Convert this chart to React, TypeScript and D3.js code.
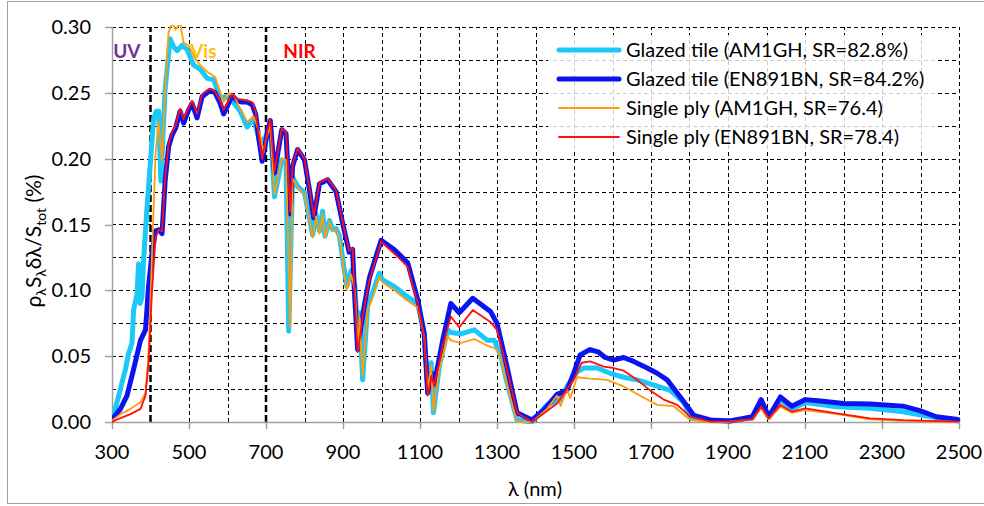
import React from "react";
import * as d3 from "d3";

// ---- data (wavelength nm, fraction) ----
const glazedAM1GH: [number, number][] = [
  [300, .002], [313, .015], [326, .03], [335, .04], [343, .052], [352, .06], [356, .085], [365, .097], [369, .12], [373, .09], [378, .095], [382, .123], [391, .163], [400, .198], [408, .23], [415, .236], [421, .236], [427, .183], [438, .253], [451, .291], [460, .285], [469, .282], [482, .286], [495, .283], [512, .271], [529, .268], [547, .261], [564, .26], [581, .246], [594, .247], [607, .246], [620, .241], [633, .236], [651, .224], [668, .231], [685, .211], [700, .217], [711, .227], [722, .171], [741, .199], [752, .198], [759, .069], [769, .186], [782, .179], [800, .174], [821, .142], [830, .158], [839, .145], [847, .16], [853, .141], [865, .153], [873, .146], [882, .147], [891, .141], [902, .118], [910, .103], [921, .115], [931, .103], [940, .055], [943, .083], [951, .032], [964, .088], [977, .098], [994, .113], [1003, .108], [1033, .103], [1068, .095], [1094, .09], [1111, .067], [1120, .027], [1129, .045], [1135, .007], [1150, .042], [1172, .07], [1180, .068], [1206, .067], [1241, .07], [1275, .062], [1293, .062], [1300, .057], [1310, .05], [1326, .03], [1352, .0015], [1391, 0], [1430, .013], [1465, .017], [1482, .027], [1508, .038], [1525, .041], [1560, .041], [1594, .037], [1629, .034], [1664, .032], [1698, .029], [1750, .024], [1785, .015], [1802, .004], [1854, .001], [1900, .0008], [1963, .003], [1986, .013], [2006, .0035], [2036, .017], [2066, .010], [2101, .0147], [2183, .0116], [2269, .0104], [2355, .0078], [2415, .0046], [2497, .0008],
];
const glazedEN891BN: [number, number][] = [
  [300, .002], [322, .01], [339, .02], [356, .04], [374, .062], [387, .07], [395, .103], [404, .128], [413, .145], [421, .146], [430, .143], [438, .183], [447, .209], [456, .218], [465, .223], [477, .236], [486, .227], [499, .237], [508, .242], [521, .231], [534, .247], [547, .25], [555, .252], [568, .25], [581, .242], [590, .234], [603, .242], [612, .248], [625, .244], [638, .243], [651, .243], [664, .241], [673, .234], [681, .216], [690, .198], [698, .211], [703, .219], [711, .229], [722, .189], [741, .222], [752, .219], [763, .158], [769, .194], [782, .207], [800, .199], [813, .176], [824, .155], [839, .181], [860, .184], [882, .175], [899, .151], [916, .129], [925, .131], [929, .103], [938, .055], [955, .088], [969, .11], [999, .138], [1033, .131], [1068, .121], [1094, .093], [1111, .067], [1120, .022], [1130, .037], [1137, .029], [1159, .062], [1180, .09], [1202, .083], [1237, .094], [1283, .084], [1300, .075], [1326, .042], [1352, .007], [1391, .0015], [1421, .009], [1456, .021], [1482, .024], [1499, .037], [1516, .051], [1542, .055], [1564, .053], [1581, .049], [1603, .047], [1629, .049], [1655, .046], [1690, .041], [1716, .037], [1742, .032], [1768, .022], [1794, .012], [1811, .005], [1854, .0015], [1906, .0008], [1963, .004], [1986, .017], [2006, .004], [2036, .019], [2066, .012], [2101, .017], [2140, .016], [2200, .014], [2269, .0137], [2355, .012], [2398, .0086], [2441, .004], [2497, .002],
];
const singleAM1GH: [number, number][] = [
  [300, .001], [322, .006], [348, .01], [374, .015], [387, .022], [395, .052], [404, .128], [413, .203], [421, .228], [430, .198], [438, .253], [447, .296], [456, .303], [465, .298], [477, .303], [486, .288], [499, .286], [516, .276], [529, .271], [547, .266], [568, .262], [590, .243], [603, .25], [616, .248], [633, .238], [651, .228], [668, .232], [685, .218], [694, .205], [700, .215], [711, .225], [722, .173], [741, .2], [752, .199], [763, .072], [769, .185], [782, .178], [800, .173], [821, .14], [830, .156], [839, .143], [847, .158], [853, .14], [865, .152], [873, .145], [882, .146], [891, .14], [902, .115], [910, .1], [921, .112], [931, .1], [940, .055], [943, .08], [951, .035], [964, .085], [977, .095], [994, .11], [1003, .106], [1033, .1], [1068, .092], [1094, .087], [1111, .065], [1120, .025], [1129, .043], [1135, .008], [1150, .04], [1172, .065], [1180, .062], [1206, .06], [1241, .063], [1275, .058], [1293, .056], [1300, .055], [1310, .048], [1326, .028], [1352, 0], [1391, 0], [1430, .01], [1456, .02], [1465, .012], [1482, .025], [1490, .018], [1508, .034], [1542, .033], [1586, .032], [1629, .027], [1672, .02], [1716, .013], [1759, .012], [1802, .0015], [1854, 0], [1900, 0], [1963, .002], [1986, .0104], [2006, .002], [2036, .0116], [2066, .007], [2101, .009], [2183, .006], [2269, .002], [2355, .0008], [2497, 0],
];
const singleEN891BN: [number, number][] = [
  [300, 0], [322, .003], [348, .006], [374, .01], [387, .02], [395, .045], [404, .1], [413, .14], [421, .146], [430, .145], [438, .185], [447, .211], [456, .22], [465, .225], [477, .238], [486, .23], [499, .239], [508, .244], [521, .234], [534, .249], [547, .252], [555, .253], [568, .251], [581, .244], [590, .237], [603, .244], [612, .249], [625, .245], [638, .245], [651, .244], [664, .243], [673, .236], [681, .218], [690, .2], [698, .212], [703, .22], [711, .23], [722, .19], [741, .223], [752, .22], [763, .16], [769, .195], [782, .208], [800, .2], [813, .177], [824, .156], [839, .182], [860, .185], [882, .176], [899, .152], [916, .13], [925, .132], [929, .104], [938, .053], [955, .087], [969, .108], [999, .137], [1033, .128], [1068, .118], [1094, .09], [1111, .065], [1120, .02], [1130, .035], [1137, .027], [1159, .058], [1180, .08], [1202, .072], [1237, .085], [1283, .076], [1300, .07], [1326, .04], [1352, .007], [1391, 0], [1456, .014], [1499, .032], [1520, .045], [1542, .046], [1577, .042], [1603, .041], [1629, .039], [1664, .032], [1698, .024], [1733, .017], [1768, .013], [1802, .004], [1854, .0003], [1900, .0003], [1963, .002], [1986, .0116], [2006, .0028], [2036, .013], [2066, .0078], [2101, .0104], [2183, .0066], [2269, .0028], [2355, .0015], [2497, .0003],
];

const seriesNames = [
  "Glazed tile (AM1GH, SR=82.8%)",
  "Glazed tile (EN891BN, SR=84.2%)",
  "Single ply (AM1GH, SR=76.4)",
  "Single ply (EN891BN, SR=78.4)",
];
const xTickValues = [300, 500, 700, 900, 1100, 1300, 1500, 1700, 1900, 2100, 2300, 2500];
const yTickValues = [0, 0.05, 0.1, 0.15, 0.2, 0.25, 0.3];
const regionLabels = [
  { text: "UV", nm: 303, color: "#7030A0" },
  { text: "Vis", nm: 503, color: "#FFC000" },
  { text: "NIR", nm: 745, color: "#FF0000" },
];
const regionBounds = [400, 700];

const FONT = "Lato, 'Open Sans', sans-serif";

export default function App() {
  const W = 984, H = 506;
  const x = d3.scaleLinear().domain([300, 2500]).range([112, 959]);
  const y = d3.scaleLinear().domain([0, 0.3]).range([422, 27]);
  const line = d3.line<[number, number]>().x(d => x(d[0])).y(d => y(d[1]));
  const cx = (v: number) => Math.round(x(v)) + 0.5;
  const cy = (v: number) => Math.round(y(v)) + 0.5;

  const series = [
    { name: seriesNames[0], data: glazedAM1GH, color: "#1CC8F8", width: 5 },
    { name: seriesNames[1], data: glazedEN891BN, color: "#0A14F0", width: 5 },
    { name: seriesNames[2], data: singleAM1GH, color: "#FF9C0A", width: 1.8 },
    { name: seriesNames[3], data: singleEN891BN, color: "#FF1010", width: 1.8 },
  ];

  const vGrid = d3.range(400, 2501, 100);
  const hGrid = d3.range(1, 13).map(i => i * 0.025);

  return (
    <svg width={W} height={H} style={{ position: "absolute", left: 0, top: 0, background: "#fff" }} fontFamily={FONT}>
      <rect x={7.5} y={1.5} width={990} height={502} fill="#fff" stroke="#a0a0a0" strokeWidth={1} />
      <defs>
        <clipPath id="plotclip">
          <rect x={x(300)} y={y(0.3) - 2} width={x(2500) - x(300) + 4} height={y(0) - y(0.3) + 4} />
        </clipPath>
      </defs>
      {/* grid */}
      {hGrid.map(v => (
        <line key={"h" + v} x1={x(300)} x2={x(2500)} y1={cy(v)} y2={cy(v)} stroke="#000" strokeWidth={1} strokeDasharray="4,3" shapeRendering="crispEdges" />
      ))}
      {vGrid.filter(v => !regionBounds.includes(v)).map(v => (
        <line key={"v" + v} x1={cx(v)} x2={cx(v)} y1={y(0)} y2={y(0.3)} stroke="#000" strokeWidth={1} strokeDasharray="4,3" shapeRendering="crispEdges" />
      ))}
      {regionBounds.map(v => (
        <line key={"b" + v} x1={x(v)} x2={x(v)} y1={y(0)} y2={y(0.3)} stroke="#000" strokeWidth={2.5} strokeDasharray="7,3" />
      ))}
      {/* axes */}
      <line x1={x(300)} x2={x(2500)} y1={cy(0)} y2={cy(0)} stroke="#a0a0a0" strokeWidth={1.5} />
      <line x1={cx(300)} x2={cx(300)} y1={y(0)} y2={y(0.3)} stroke="#a0a0a0" strokeWidth={1.5} />
      {xTickValues.map(v => (
        <g key={"xt" + v}>
          <line x1={cx(v)} x2={cx(v)} y1={y(0)} y2={y(0) + 7} stroke="#a0a0a0" strokeWidth={1.5} />
          <text x={x(v)} y={459} textAnchor="middle" fontSize={20} fill="#000">{v}</text>
        </g>
      ))}
      {yTickValues.map(v => (
        <g key={"yt" + v}>
          <line x1={x(300) - 7} x2={x(300)} y1={cy(v)} y2={cy(v)} stroke="#a0a0a0" strokeWidth={1.5} />
          <text x={91} y={y(v) + 7} textAnchor="end" fontSize={20} fill="#000">{v.toFixed(2)}</text>
        </g>
      ))}
      {/* region labels */}
      {regionLabels.map(r => (
        <text key={r.text} x={x(r.nm)} y={58} fontSize={19} fontWeight="bold" fill={r.color}>{r.text}</text>
      ))}
      {/* series */}
      <g clipPath="url(#plotclip)">
        {series.map(s => (
          <path key={s.name} d={line(s.data) || ""} fill="none" stroke={s.color} strokeWidth={s.width} strokeLinejoin="round" strokeLinecap="round" />
        ))}
      </g>
      {/* legend */}
      <rect x={548} y={35} width={390} height={117} fill="#fff" fillOpacity={0.8} />
      {series.map((s, i) => (
        <g key={"lg" + i}>
          <line x1={559} x2={619} y1={50 + i * 29} y2={50 + i * 29} stroke={s.color} strokeWidth={s.width} strokeLinecap="round" />
          <text x={626} y={57 + i * 29} fontSize={20} fill="#000">{s.name}</text>
        </g>
      ))}
      {/* axis titles */}
      <text x={535} y={496} textAnchor="middle" fontSize={20} fill="#000">λ (nm)</text>
      <text transform="translate(41,241) rotate(-90)" textAnchor="middle" fontSize={21} fill="#000">
        ρ<tspan fontSize={14} dy={5}>λ</tspan><tspan dy={-5}>S</tspan><tspan fontSize={14} dy={5}>λ</tspan><tspan dy={-5}>δλ/S</tspan><tspan fontSize={14} dy={5}>tot</tspan><tspan dy={-5}>{"  (%)"}</tspan>
      </text>
    </svg>
  );
}
